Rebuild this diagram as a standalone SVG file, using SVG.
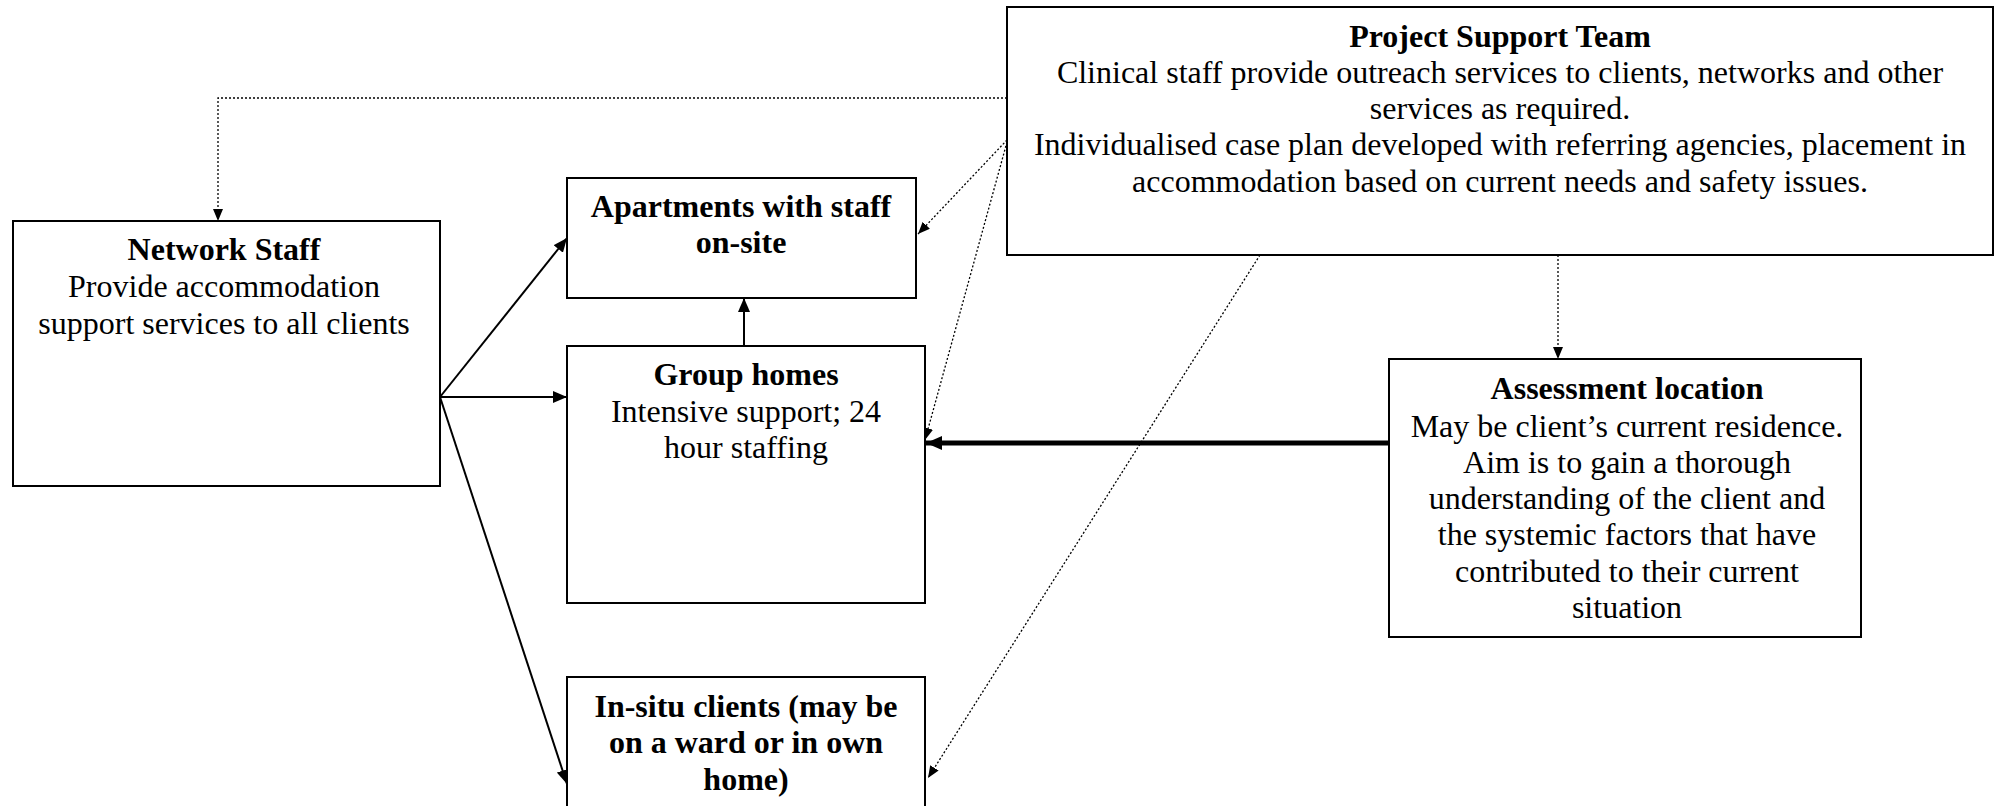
<svg xmlns="http://www.w3.org/2000/svg" width="1995" height="806" viewBox="0 0 1995 806">
<style>
.box{fill:#fff;stroke:#000;stroke-width:2}
text{font-family:"Liberation Serif","Times New Roman",serif;font-size:32px;fill:#000;text-anchor:middle}
.b{font-weight:bold}
.solid{stroke:#000;stroke-width:2;fill:none}
.thick{stroke:#000;stroke-width:5;fill:none}
.dot{stroke:#000;stroke-width:1.3;stroke-dasharray:2 2;fill:none}
</style>
<defs>
<marker id="ah" markerUnits="userSpaceOnUse" viewBox="0 0 14 12" refX="14" refY="6" markerWidth="14" markerHeight="12" orient="auto"><path d="M0,0L14,6L0,12z" fill="#000"/></marker>
<marker id="ahs" markerUnits="userSpaceOnUse" viewBox="0 0 12 10" refX="12" refY="5" markerWidth="12" markerHeight="10" orient="auto"><path d="M0,0L12,5L0,10z" fill="#000"/></marker>
<marker id="ahb" markerUnits="userSpaceOnUse" viewBox="0 0 16 14" refX="16" refY="7" markerWidth="16" markerHeight="14" orient="auto"><path d="M0,0L16,7L0,14z" fill="#000"/></marker>
</defs>
<rect width="1995" height="806" fill="#fff"/>
<g id="connectors">
<polyline class="dot" points="1007,98 218,98 218,221" marker-end="url(#ahs)"/>
<line class="dot" x1="1007" y1="140" x2="918" y2="234" marker-end="url(#ahs)"/>
<line class="dot" x1="1007" y1="142" x2="925" y2="440" marker-end="url(#ahs)"/>
<line class="dot" x1="1260" y1="255" x2="928" y2="778" marker-end="url(#ahs)"/>
<line class="dot" x1="1558" y1="255" x2="1558" y2="359" marker-end="url(#ahs)"/>
<line class="solid" x1="440" y1="397" x2="567" y2="238" marker-end="url(#ah)"/>
<line class="solid" x1="440" y1="397" x2="567" y2="397" marker-end="url(#ah)"/>
<line class="solid" x1="440" y1="397" x2="567" y2="784" marker-end="url(#ah)"/>
<line class="solid" x1="744" y1="346" x2="744" y2="298" marker-end="url(#ah)"/>
<line class="thick" x1="1389" y1="443" x2="926" y2="443" marker-end="url(#ahb)"/>
</g>
<g id="network-staff">
<rect class="box" x="13" y="221" width="427" height="265"/>
<text x="224" y="260" class="b">Network Staff</text>
<text x="224" y="297">Provide accommodation</text>
<text x="224" y="334">support services to all clients</text>
</g>
<g id="apartments">
<rect class="box" x="567" y="178" width="349" height="120"/>
<text x="741" y="217" class="b">Apartments with staff</text>
<text x="741" y="253" class="b">on-site</text>
</g>
<g id="group-homes">
<rect class="box" x="567" y="346" width="358" height="257"/>
<text x="746" y="385" class="b">Group homes</text>
<text x="746" y="422">Intensive support; 24</text>
<text x="746" y="458">hour staffing</text>
</g>
<g id="in-situ">
<rect class="box" x="567" y="677" width="358" height="140"/>
<text x="746" y="717" class="b">In-situ clients (may be</text>
<text x="746" y="753" class="b">on a ward or in own</text>
<text x="746" y="790" class="b">home)</text>
</g>
<g id="project-support-team">
<rect class="box" x="1007" y="7" width="986" height="248"/>
<text x="1500" y="47" class="b">Project Support Team</text>
<text x="1500" y="83">Clinical staff provide outreach services to clients, networks and other</text>
<text x="1500" y="119">services as required.</text>
<text x="1500" y="155">Individualised case plan developed with referring agencies, placement in</text>
<text x="1500" y="192">accommodation based on current needs and safety issues.</text>
</g>
<g id="assessment-location">
<rect class="box" x="1389" y="359" width="472" height="278"/>
<text x="1627" y="399" class="b">Assessment location</text>
<text x="1627" y="437">May be client’s current residence.</text>
<text x="1627" y="473">Aim is to gain a thorough</text>
<text x="1627" y="509">understanding of the client and</text>
<text x="1627" y="545">the systemic factors that have</text>
<text x="1627" y="582">contributed to their current</text>
<text x="1627" y="618">situation</text>
</g>
</svg>
